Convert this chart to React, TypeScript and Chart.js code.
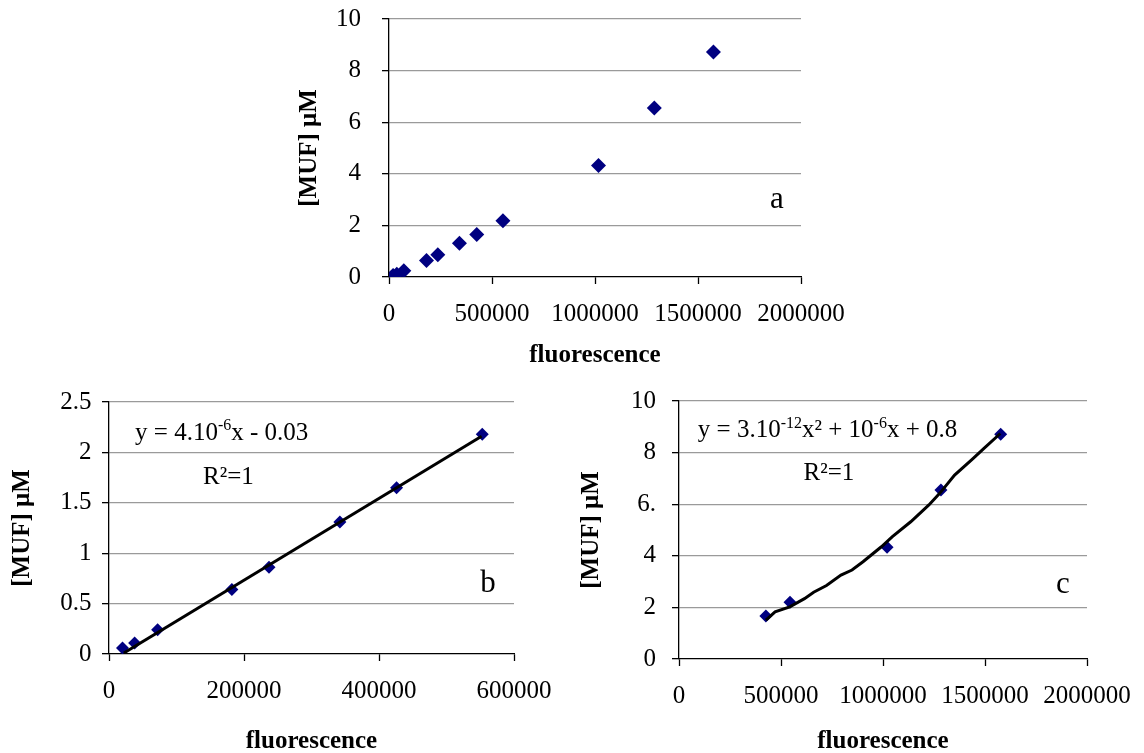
import React, { useEffect, useRef } from "react";
import { Chart, registerables } from "chart.js";

Chart.register(...registerables);

const SERIF = "'Times New Roman', 'Liberation Serif', serif";

// ---------- data ----------
const fluorescenceA = [20000, 38000, 72000, 182000, 237000, 342000, 426000, 553000, 1017000, 1288000, 1575000];
const mufA = [0.06, 0.11, 0.24, 0.64, 0.86, 1.31, 1.65, 2.18, 4.32, 6.55, 8.72];

const fluorescenceB = [20000, 38000, 72000, 182000, 237000, 342000, 426000, 553000];
const mufB = [0.06, 0.11, 0.24, 0.64, 0.86, 1.31, 1.65, 2.18];
const trendBX = [22000, 552000];
const trendBY = [0.01, 2.16];

const fluorescenceC = [426000, 544000, 1020000, 1284000, 1577000];
const mufC = [1.67, 2.2, 4.33, 6.55, 8.71];
const trendCX = [426000, 471000, 543000, 615000, 660000, 723000, 794000, 848000, 902000, 992000, 1046000, 1136000, 1225000, 1279000, 1351000, 1441000, 1495000, 1575000];
const trendCY = [1.51, 1.83, 2.02, 2.34, 2.59, 2.85, 3.25, 3.45, 3.77, 4.35, 4.74, 5.32, 5.97, 6.43, 7.13, 7.77, 8.16, 8.74];

const yTicksA = ["0", "2", "4", "6", "8", "10"];
const yTicksB = ["0", "0.5", "1", "1.5", "2", "2.5"];
const yTicksC = ["0", "2", "4", "6.", "8", "10"];
const xTitle = "fluorescence";
const yTitle = "[MUF] μM";

const MARKER = "#000080";
const TICK_FONT = 25;
const TITLE_FONT = 25;

type Seg = { t: string; sup?: boolean };
type Note = { x: number; y: number; size: number; segs: Seg[] };

const notesA: Note[] = [{ x: 1883000, y: 2.98, size: 31, segs: [{ t: "a" }] }];
const notesB: Note[] = [
  { x: 561500, y: 0.7, size: 31, segs: [{ t: "b" }] },
  { x: 167000, y: 2.19, size: 25, segs: [{ t: "y = 4.10" }, { t: "-6", sup: true }, { t: "x - 0.03" }] },
  { x: 177000, y: 1.75, size: 25, segs: [{ t: "R²=1" }] },
];
const notesC: Note[] = [
  { x: 1882000, y: 2.87, size: 31, segs: [{ t: "c" }] },
  {
    x: 728000,
    y: 8.84,
    size: 25,
    segs: [{ t: "y = 3.10" }, { t: "-12", sup: true }, { t: "x² + 10" }, { t: "-6", sup: true }, { t: "x + 0.8" }],
  },
  { x: 735000, y: 7.21, size: 25, segs: [{ t: "R²=1" }] },
];

function toPoints(xs: number[], ys: number[]) {
  return xs.map((x, i) => ({ x, y: ys[i] }));
}

function drawRich(ctx: CanvasRenderingContext2D, note: Note, px: number, py: number) {
  const base = note.size;
  const supSize = Math.round(base * 0.64);
  let total = 0;
  const widths = note.segs.map((s) => {
    ctx.font = `${s.sup ? supSize : base}px ${SERIF}`;
    const w = ctx.measureText(s.t).width;
    total += w;
    return w;
  });
  let x = px - total / 2;
  ctx.textBaseline = "middle";
  ctx.textAlign = "left";
  ctx.fillStyle = "#000";
  note.segs.forEach((s, i) => {
    ctx.font = `${s.sup ? supSize : base}px ${SERIF}`;
    ctx.fillText(s.t, x, s.sup ? py - base * 0.3 : py);
    x += widths[i];
  });
}

type PanelProps = {
  left: number;
  top: number;
  width: number;
  height: number;
  datasets: any[];
  xMax: number;
  xStep: number;
  yMax: number;
  yStep: number;
  yLabels: string[];
  padTop: number;
  padRight: number;
  yAxisW: number;
  xAxisH: number;
  yTickPad: number;
  xTickPad: number;
  xTitlePadBottom: number;
  yTitlePadTop: number;
  notes: Note[];
};

function Panel(p: PanelProps) {
  const ref = useRef<HTMLCanvasElement>(null);
  useEffect(() => {
    const notePlugin = {
      id: "notes",
      afterDatasetsDraw(chart: any) {
        const ctx = chart.ctx as CanvasRenderingContext2D;
        const xs = chart.scales.x;
        const ys = chart.scales.y;
        ctx.save();
        p.notes.forEach((n) => drawRich(ctx, n, xs.getPixelForValue(n.x), ys.getPixelForValue(n.y)));
        ctx.restore();
      },
    };
    const chart = new Chart(ref.current as HTMLCanvasElement, {
      type: "scatter",
      data: { datasets: p.datasets },
      options: {
        animation: false,
        responsive: false,
        maintainAspectRatio: false,
        layout: { padding: { top: p.padTop, right: p.padRight, bottom: 0, left: 0 } },
        plugins: { legend: { display: false }, tooltip: { enabled: false } },
        scales: {
          x: {
            type: "linear",
            min: 0,
            max: p.xMax,
            ticks: {
              stepSize: p.xStep,
              autoSkip: false,
              maxRotation: 0,
              padding: p.xTickPad,
              color: "#000",
              font: { family: SERIF, size: TICK_FONT },
              callback: (v: any) => String(v),
            },
            grid: { drawOnChartArea: false, drawTicks: true, tickLength: 7, tickColor: "#000", tickWidth: 1.3 },
            border: { display: true, color: "#000", width: 1.3 },
            title: {
              display: true,
              text: xTitle,
              color: "#000",
              font: { family: SERIF, size: TITLE_FONT, weight: "bold" },
              padding: { top: 0, bottom: p.xTitlePadBottom },
            },
            afterFit: (s: any) => {
              s.height = p.xAxisH;
              s.paddingLeft = 0;
              s.paddingRight = 0;
            },
          } as any,
          y: {
            type: "linear",
            min: 0,
            max: p.yMax,
            ticks: {
              stepSize: p.yStep,
              autoSkip: false,
              padding: p.yTickPad,
              color: "#000",
              font: { family: SERIF, size: TICK_FONT },
              callback: (_v: any, i: number) => p.yLabels[i],
            },
            grid: {
              drawTicks: true,
              tickLength: 7,
              tickColor: "#000",
              tickWidth: 1.3,
              lineWidth: 1.3,
              color: (c: any) => (c.tick && c.tick.value === 0 ? "rgba(0,0,0,0)" : "#9a9a9a"),
            },
            border: { display: true, color: "#000", width: 1.3 },
            title: {
              display: true,
              text: yTitle,
              color: "#000",
              font: { family: SERIF, size: TITLE_FONT, weight: "bold" },
              padding: { top: p.yTitlePadTop, bottom: 0 },
            },
            afterFit: (s: any) => {
              s.width = p.yAxisW;
              s.paddingTop = 0;
              s.paddingBottom = 0;
            },
          } as any,
        },
      },
      plugins: [notePlugin],
    } as any);
    return () => chart.destroy();
  }, []);
  return (
    <div style={{ position: "absolute", left: p.left, top: p.top, width: p.width, height: p.height }}>
      <canvas ref={ref} width={p.width} height={p.height} style={{ width: p.width, height: p.height, display: "block" }} />
    </div>
  );
}

function markerSet(xs: number[], ys: number[], r: number) {
  return {
    data: toPoints(xs, ys),
    showLine: false,
    pointStyle: "rectRot",
    pointRadius: r,
    backgroundColor: MARKER,
    borderColor: MARKER,
    borderWidth: 0,
  };
}

function trendSet(xs: number[], ys: number[]) {
  return {
    data: toPoints(xs, ys),
    showLine: true,
    pointRadius: 0,
    borderColor: "#000",
    borderWidth: 3,
    tension: 0,
    fill: false,
  };
}

export default function App() {
  return (
    <div style={{ position: "fixed", left: 0, top: 0, width: 1144, height: 753, overflow: "hidden", background: "#fff" }}>
      <Panel
        left={290}
        top={0}
        width={560}
        height={380}
        datasets={[markerSet(fluorescenceA, mufA, 7.5)]}
        xMax={2000000}
        xStep={500000}
        yMax={10}
        yStep={2}
        yLabels={yTicksA}
        padTop={19}
        padRight={49}
        yAxisW={99}
        xAxisH={103}
        yTickPad={21}
        xTickPad={15}
        xTitlePadBottom={9}
        yTitlePadTop={5}
        notes={notesA}
      />
      <Panel
        left={0}
        top={380}
        width={570}
        height={380}
        datasets={[trendSet(trendBX, trendBY), markerSet(fluorescenceB, mufB, 6.5)]}
        xMax={600000}
        xStep={200000}
        yMax={2.5}
        yStep={0.5}
        yLabels={yTicksB}
        padTop={22}
        padRight={56}
        yAxisW={109}
        xAxisH={106}
        yTickPad={10.5}
        xTickPad={15}
        xTitlePadBottom={3}
        yTitlePadTop={8}
        notes={notesB}
      />
      <Panel
        left={575}
        top={380}
        width={569}
        height={380}
        datasets={[trendSet(trendCX, trendCY), markerSet(fluorescenceC, mufC, 6.5)]}
        xMax={2000000}
        xStep={500000}
        yMax={10}
        yStep={2}
        yLabels={yTicksC}
        padTop={21}
        padRight={57}
        yAxisW={104}
        xAxisH={101}
        yTickPad={16}
        xTickPad={15}
        xTitlePadBottom={3}
        yTitlePadTop={2}
        notes={notesC}
      />
    </div>
  );
}
